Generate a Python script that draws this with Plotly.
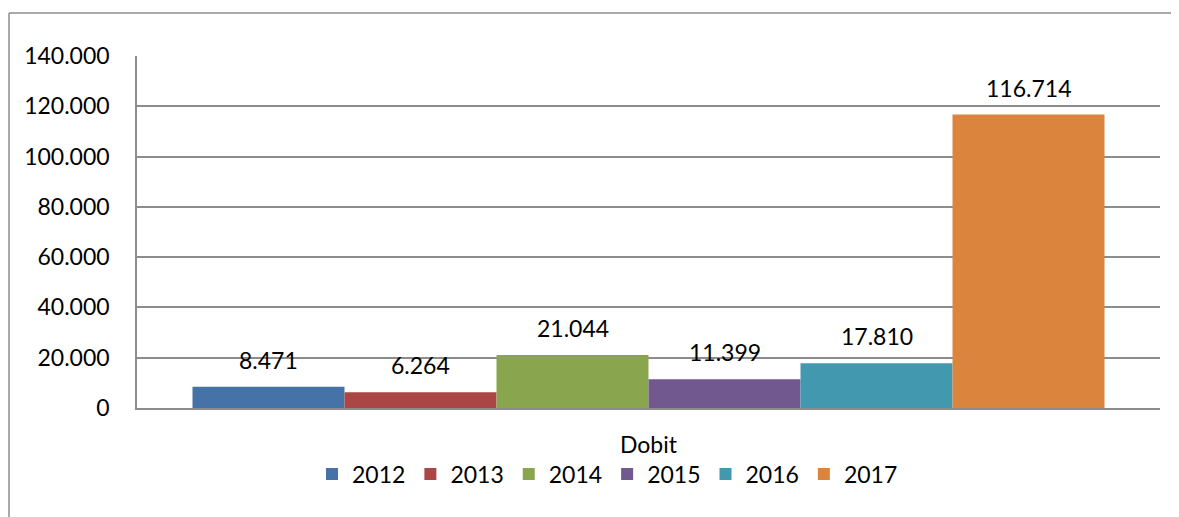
import plotly.graph_objects as go

categories = ["Dobit"]
years = ["2012", "2013", "2014", "2015", "2016", "2017"]
values = [8471, 6264, 21044, 11399, 17810, 116714]
colors = ["#4572A7", "#AA4643", "#89A54E", "#71588F", "#4198AF", "#DB843D"]
y_ticks = [0, 20000, 40000, 60000, 80000, 100000, 120000, 140000]

FONT = "Lato, 'Open Sans', 'Liberation Sans', sans-serif"
FS = 23
bargap = 0.1085
OFF = 8  # page body margin

def fmt(v):
    return f"{v:,}".replace(",", ".")

fig = go.Figure()
for yr, v, c in zip(years, values, colors):
    fig.add_trace(go.Bar(x=categories, y=[v], name=yr, marker=dict(color=c, line=dict(width=0))))

n = len(values)
w = (1 - bargap) / n
annotations = []
for i, v in enumerate(values):
    annotations.append(dict(
        x=-(1 - bargap) / 2 + w * (i + 0.5), y=v, xref="x", yref="y",
        text=fmt(v), showarrow=False, yanchor="middle", yshift=27,
        font=dict(family=FONT, size=FS, color="black")))

W, H = 1179 - OFF, 517 - OFF
L, T = 137 - OFF, 56 - OFF
R = W - (1160 - OFF)
B = H - (408 - OFF)
pw = W - L - R
ph = H - T - B
bx = (9 - 137) / pw
by = (408 - 13) / ph
shapes = [
    dict(type="line", xref="paper", yref="paper", x0=bx, x1=bx, y0=-0.5, y1=by,
         line=dict(color="#8c8c8c", width=1.5)),
    dict(type="line", xref="paper", yref="paper", x0=bx, x1=1.2, y0=by, y1=by,
         line=dict(color="#8c8c8c", width=1.5)),
]

fig.update_layout(
    width=W, height=H,
    margin=dict(l=L, r=R, t=T, b=B, pad=0, autoexpand=False),
    paper_bgcolor="white", plot_bgcolor="white",
    barmode="group", bargap=bargap, bargroupgap=0,
    font=dict(family=FONT, size=FS, color="black"),
    separators=",.",
    showlegend=True,
    legend=dict(orientation="h", x=(312 - 137) / pw, xanchor="left",
                y=(408 - 474) / ph, yanchor="middle",
                bgcolor="rgba(0,0,0,0)",
                font=dict(family=FONT, size=FS, color="black"),
                traceorder="normal"),
    annotations=annotations,
    shapes=shapes,
    xaxis=dict(showgrid=False, showline=True, linecolor="#8c8c8c", linewidth=1.5,
               ticks="", ticklabelstandoff=16,
               tickfont=dict(family=FONT, size=FS, color="black")),
    yaxis=dict(range=[0, 140000], tickvals=y_ticks, tickformat=",d",
               showgrid=True, gridcolor="#8c8c8c", gridwidth=1.5,
               showline=True, linecolor="#8c8c8c", linewidth=1.5,
               ticks="", ticklabelstandoff=21, zeroline=False,
               tickfont=dict(family=FONT, size=FS, color="black")),
)

fig.write_html("out.html")
